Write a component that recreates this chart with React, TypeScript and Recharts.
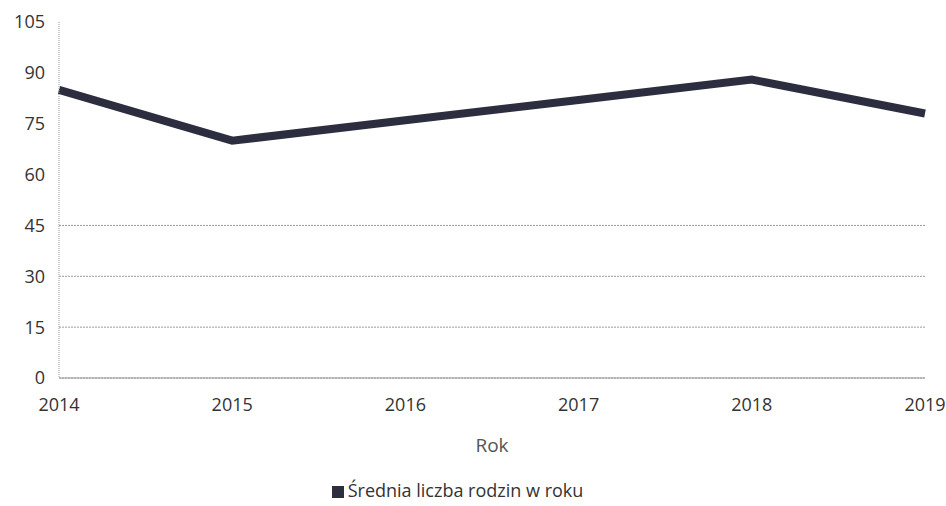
import React from "react";
import { CartesianGrid, Legend, Line, LineChart, XAxis, YAxis } from "recharts";

const years = ["2014", "2015", "2016", "2017", "2018", "2019"];
const families = [85, 70, 76, 82, 88, 78];
const yTicks = [0, 15, 30, 45, 60, 75, 90, 105];
const gridValues = [0, 15, 30, 45];

const data = years.map((year, i) => ({ year, families: families[i] }));

const font = "'Open Sans', sans-serif";

export default function App() {
  return (
    <div style={{ position: "absolute", left: 0, top: 0, background: "#fff" }}>
      <LineChart
        width={946}
        height={506}
        data={data}
        margin={{ top: 22, right: 21, left: 0, bottom: 4 }}
        style={{ fontFamily: font }}
      >
        <CartesianGrid
          vertical={false}
          horizontalValues={gridValues}
          stroke="#9a9a9a"
          strokeDasharray="2 1"
        />
        <XAxis
          dataKey="year"
          height={100}
          tickLine={false}
          tickMargin={14}
          axisLine={{ stroke: "#9a9a9a" }}
          tick={{ fill: "#333", fontSize: 18 }}
          label={{
            value: "Rok",
            position: "insideBottom",
            offset: 26,
            fill: "#555",
            fontSize: 19,
          }}
        />
        <YAxis
          width={59}
          domain={[0, 105]}
          ticks={yTicks}
          interval={0}
          tickLine={false}
          tickMargin={8}
          axisLine={{ stroke: "#9a9a9a", strokeDasharray: "1 1" }}
          tick={{ fill: "#333", fontSize: 18 }}
        />
        <Legend
          verticalAlign="bottom"
          iconType="square"
          iconSize={12}
          wrapperStyle={{ fontSize: 18, color: "#333" }}
          formatter={(v) => <span style={{ color: "#333" }}>{v}</span>}
        />
        <Line
          type="linear"
          dataKey="families"
          name="Średnia liczba rodzin w roku"
          stroke="#2c2e40"
          strokeWidth={8}
          dot={false}
          activeDot={false}
          isAnimationActive={false}
        />
      </LineChart>
    </div>
  );
}
